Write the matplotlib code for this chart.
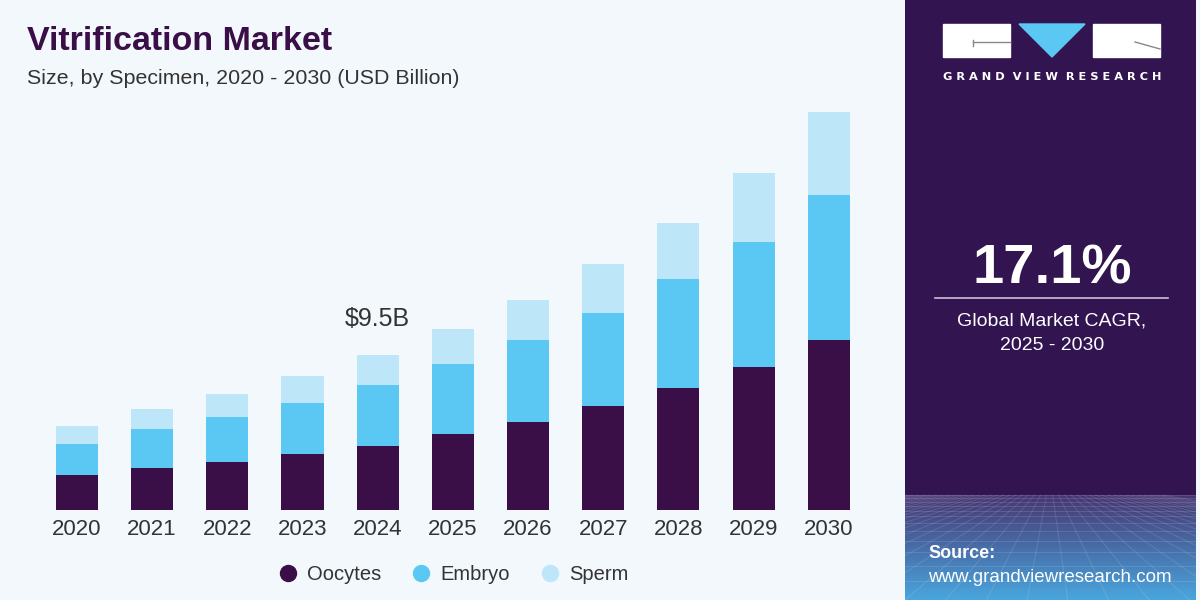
import matplotlib
matplotlib.use("Agg")
import matplotlib.pyplot as plt
import numpy as np
from matplotlib.lines import Line2D
from matplotlib.patches import Rectangle, Polygon

# ---- data ----
years = ["2020", "2021", "2022", "2023", "2024", "2025", "2026", "2027", "2028", "2029", "2030"]
oocytes = [2.12, 2.57, 2.95, 3.41, 3.93, 4.63, 5.40, 6.36, 7.44, 8.76, 10.40]
embryo = [1.91, 2.37, 2.73, 3.16, 3.71, 4.28, 5.00, 5.67, 6.67, 7.65, 8.87]
sperm = [1.10, 1.24, 1.41, 1.63, 1.85, 2.14, 2.45, 3.00, 3.43, 4.22, 5.06]
series_names = ["Oocytes", "Embryo", "Sperm"]
annot_year = "2024"
annot_text = "$9.5B"
cagr_text = "17.1%"

# ---- style ----
BG = "#F3F8FC"
PANEL = "#321450"
C_OO = "#3A0F48"
C_EM = "#5BC8F3"
C_SP = "#BDE6F8"
TXT = "#333333"
BODY = "Liberation Sans"

W, H = 1200, 600
fig = plt.figure(figsize=(12, 6), dpi=100, facecolor=BG)

def fx(px):
    return px / W

def fy(py):
    return 1 - py / H

# main axes
ax = fig.add_axes([fx(39.4), 90 / H, 827 / W, 410 / H])
ax.set_facecolor(BG)
x = np.arange(len(years))
bw = 0.56
oo = np.array(oocytes)
em = np.array(embryo)
sp = np.array(sperm)
ax.bar(x, oo, bw, color=C_OO, label=series_names[0])
ax.bar(x, em, bw, bottom=oo, color=C_EM, label=series_names[1])
ax.bar(x, sp, bw, bottom=oo + em, color=C_SP, label=series_names[2])
ax.set_xlim(-0.5, len(years) - 0.5)
ax.set_ylim(0, 25.08)
ax.set_xticks(x)
ax.set_xticklabels(years, fontsize=16, color=TXT, family=BODY)
ax.tick_params(axis="x", length=0, pad=6.5)
ax.set_yticks([])
for s in ax.spines.values():
    s.set_visible(False)

i = years.index(annot_year)
tot = oo[i] + em[i] + sp[i]
ax.annotate(annot_text, (x[i], tot), xytext=(0, 26), textcoords="offset points",
            ha="center", va="center", fontsize=18, color=TXT, family=BODY)

# title
fig.text(fx(27), fy(41), "Vitrification Market", fontsize=24.5, fontweight="bold",
         color=C_OO, family=BODY, ha="left", va="center")
fig.text(fx(27), fy(78), "Size, by Specimen, 2020 - 2030 (USD Billion)", fontsize=15.4,
         color=TXT, family=BODY, ha="left", va="center")

# legend
handles = [Line2D([], [], marker="o", linestyle="", markersize=11.5, color=c) for c in (C_OO, C_EM, C_SP)]
fig.legend(handles, series_names, loc="center", bbox_to_anchor=(fx(451), fy(575)), ncol=3,
           frameon=False, prop={"family": BODY, "size": 14.5}, handletextpad=0.25,
           handlelength=1.4, columnspacing=1.3, labelcolor=TXT)

# right panel
pax = fig.add_axes([fx(905), 0, 291 / W, 1])
pax.set_xlim(905, 1196)
pax.set_ylim(600, 0)
pax.axis("off")
pax.add_patch(Rectangle((905, 0), 291, 600, color=PANEL, zorder=0))
# gradient at bottom
grad = np.linspace(0, 1, 200)[:, None]
c0 = np.array(matplotlib.colors.to_rgb("#463672"))
c1 = np.array(matplotlib.colors.to_rgb("#4AA6DE"))
img = c0[None, None, :] * (1 - grad[..., None]) + c1[None, None, :] * grad[..., None]
img = np.repeat(img, 2, axis=1)
pax.imshow(img, extent=(905, 1196, 600, 495), aspect="auto", zorder=1)
# faint perspective grid
for k in np.linspace(-600, 1800, 60):
    pax.plot([1050 + (k - 1050) * 0.15, k], [495, 600], color="white", alpha=0.12, lw=0.7, zorder=2)
yy = 495
step = 3
while yy < 600:
    pax.plot([905, 1196], [yy, yy], color="white", alpha=0.12, lw=0.7, zorder=2)
    yy += step
    step *= 1.18
pax.set_xlim(905, 1196)
pax.set_ylim(600, 0)

# logo
pax.add_patch(Rectangle((943, 24), 67, 33, color="white", zorder=3))
pax.plot([973, 1010], [42, 42], color="#888888", lw=1, zorder=4)
pax.plot([973, 973], [40, 46], color="#888888", lw=1, zorder=4)
pax.add_patch(Polygon([(1019, 24), (1085, 24), (1052, 57)], color=C_EM, zorder=3))
pax.add_patch(Rectangle((1093, 24), 67, 33, color="white", zorder=3))
pax.plot([1135, 1160], [42, 49], color="#888888", lw=1, zorder=4)
pax.text(1052, 77, "G R A N D  V I E W  R E S E A R C H", color="white",
         fontsize=8.2, fontweight="bold", family="DejaVu Sans", ha="center", va="center", zorder=4)

pax.text(1052, 270, cagr_text, color="white", fontsize=40.5, fontweight="bold",
         family=BODY, ha="center", va="center", zorder=4)
pax.plot([935, 1168], [298, 298], color="#C9BEDA", lw=1.2, zorder=4)
pax.text(1052, 321, "Global Market CAGR,", color="white", fontsize=14, family=BODY,
         ha="center", va="center", zorder=4)
pax.text(1052, 346, "2025 - 2030", color="white", fontsize=14, family=BODY,
         ha="center", va="center", zorder=4)
pax.text(928, 553, "Source:", color="white", fontsize=13, fontweight="bold", family=BODY,
         ha="left", va="center", zorder=4)
pax.text(928, 577, "www.grandviewresearch.com", color="white", fontsize=13.5, family=BODY,
         ha="left", va="center", zorder=4)

fig.savefig("out.png", dpi=100, facecolor=BG)
